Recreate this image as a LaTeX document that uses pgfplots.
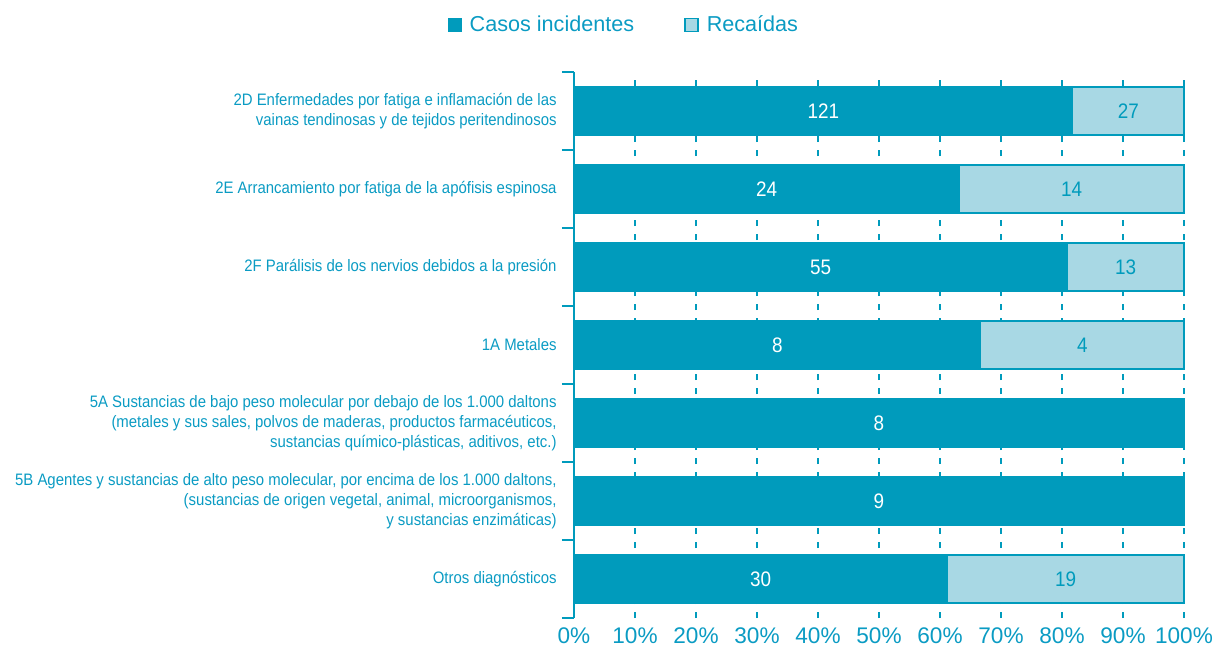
\documentclass[border=0pt]{standalone}
\usepackage{fontspec}
\setmainfont{Liberation Sans}
\newfontfamily\condfont[FakeStretch=0.9]{Liberation Sans}
\usepackage{pgfplots}
\pgfplotsset{compat=1.18}
\definecolor{dark}{RGB}{0,155,188}
\definecolor{light}{RGB}{168,216,228}
\definecolor{txt}{RGB}{10,155,195}
\begin{document}
\begin{tikzpicture}
\useasboundingbox (0,0) rectangle (606pt,325pt);
\begin{axis}[
  at={(287pt,16pt)}, anchor=south west,
  width=305pt, height=273pt, scale only axis,
  xmin=0, xmax=100, ymin=-0.5, ymax=6.5,
  clip=false,
  separate axis lines,
  axis x line*=bottom, axis y line*=left,
  x axis line style={draw=none},
  y axis line style={draw=dark, line width=1pt},
  xtick={0,10,...,100},
  xticklabels={0\%,10\%,20\%,30\%,40\%,50\%,60\%,70\%,80\%,90\%,100\%},
  major tick length=0pt,
  xmajorgrids,
  grid style={draw=dark, line width=0.8pt, dash pattern=on 3pt off 4pt},
  xticklabel style={font=\fontsize{11.3}{13}\selectfont, text=txt, yshift=-1.5pt},
  ytick={0,...,6},
  yticklabels={
    {Otros diagnósticos},
    {5B Agentes y sustancias de alto peso molecular, por encima de los 1.000 daltons,\\(sustancias de origen vegetal, animal, microorganismos,\\y sustancias enzimáticas)},
    {5A Sustancias de bajo peso molecular por debajo de los 1.000 daltons\\(metales y sus sales, polvos de maderas, productos farmacéuticos,\\sustancias químico-plásticas, aditivos, etc.)},
    {1A Metales},
    {2F Parálisis de los nervios debidos a la presión},
    {2E Arrancamiento por fatiga de la apófisis espinosa},
    {2D Enfermedades por fatiga e inflamación de las\\vainas tendinosas y de tejidos peritendinosos}},
  yticklabel style={font=\condfont\fontsize{8.3}{10}\selectfont, text=txt, align=right, inner sep=0pt, xshift=-8.5pt},
  extra y ticks={-0.5,0.5,1.5,2.5,3.5,4.5,5.5,6.5},
  extra y tick labels={},
  extra y tick style={major tick length=6pt, tick align=outside, tick style={draw=dark, line width=1pt}},
  legend style={at={(0.0836,1.0858)}, anchor=center, draw=none, fill=none,
    legend columns=2, font=\fontsize{10.8}{13}\selectfont, text=txt,
    /tikz/every odd column/.append style={column sep=2pt},
    /tikz/every even column/.append style={column sep=23pt}},
]
% Recaidas (full bar behind)
\addplot[forget plot, xbar, bar width=24pt, bar shift=0pt, fill=light, draw=dark, line width=0.6pt]
  coordinates {(100,0) (100,3) (100,4) (100,5) (100,6)};
% Casos incidentes (share of total, %)
\addplot[forget plot, xbar, bar width=24pt, bar shift=0pt, fill=dark, draw=dark, line width=0.6pt]
  coordinates {(61.22,0) (100,1) (100,2) (66.67,3) (80.88,4) (63.16,5) (81.76,6)};
% labels
\addplot[forget plot, draw=none, mark=none,
  point meta=explicit symbolic, nodes near coords,
  nodes near coords style={anchor=center, text=white, font=\condfont\fontsize{10.5}{12}\selectfont}]
  coordinates {(30.61,0) [30] (50,1) [9] (50,2) [8] (33.33,3) [8] (40.44,4) [55] (31.58,5) [24] (40.88,6) [121]};
\addplot[forget plot, draw=none, mark=none,
  point meta=explicit symbolic, nodes near coords,
  nodes near coords style={anchor=center, text=dark, font=\condfont\fontsize{10.5}{12}\selectfont}]
  coordinates {(80.61,0) [19] (83.33,3) [4] (90.44,4) [13] (81.58,5) [14] (90.88,6) [27]};
\addlegendimage{legend image code/.code={\draw[fill=dark, draw=dark] (0pt,-3.25pt) rectangle (6.5pt,3.25pt);}}
\addlegendentry{Casos incidentes}
\addlegendimage{legend image code/.code={\draw[fill=light, draw=dark, line width=0.8pt] (0pt,-3.25pt) rectangle (6.5pt,3.25pt);}}
\addlegendentry{Recaídas}
\end{axis}
\end{tikzpicture}
\end{document}
